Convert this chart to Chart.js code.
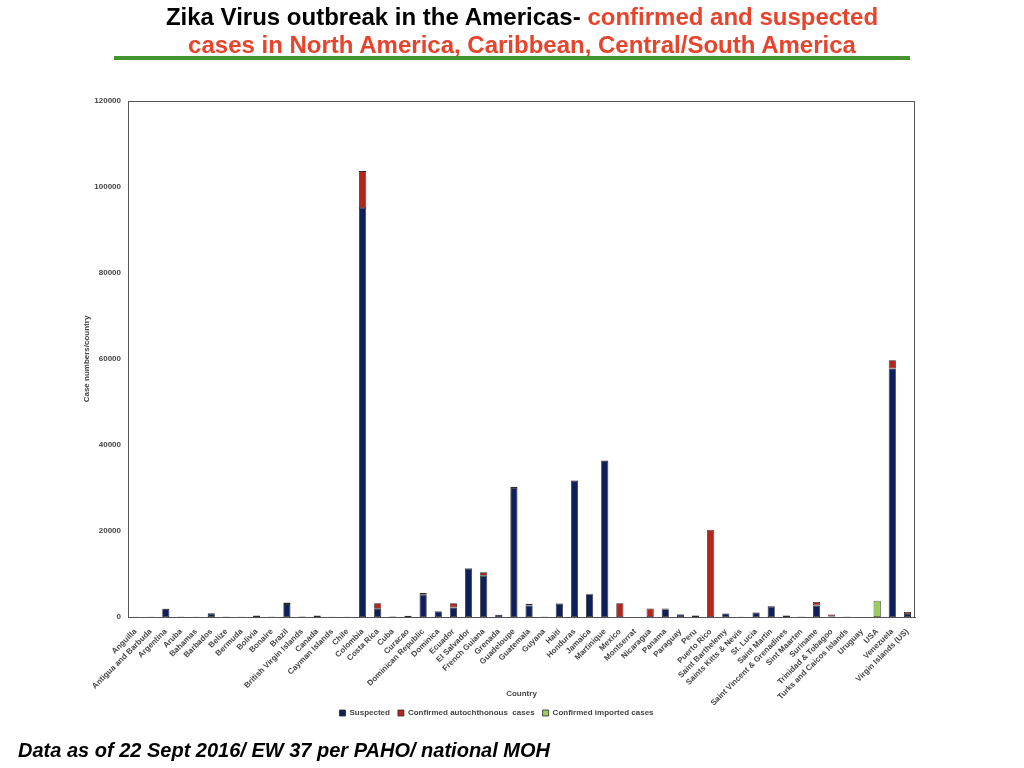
<!DOCTYPE html>
<html>
<head>
<meta charset="utf-8">
<script src="https://cdn.jsdelivr.net/npm/chart.js@4/dist/chart.umd.min.js"></script>
<style>
  html, body { margin: 0; padding: 0; background: #fff; }
  body { width: 1024px; height: 768px; position: relative; overflow: hidden;
         font-family: "Liberation Sans", Arial, Helvetica, sans-serif; }
  #chartBox { position: absolute; left: 0; top: 0; width: 1024px; height: 768px; }
  .title { position: absolute; left: 0; width: 1044px; text-align: center;
           font-weight: bold; font-size: 24px; line-height: 28px; color: #000; }
  .red { color: #e8432b; }
  #rule { position: absolute; left: 114px; top: 56px; width: 796px; height: 4px; background: #45952f; }
  #footer { position: absolute; left: 18px; top: 739px; font-size: 20px; font-weight: bold;
            font-style: italic; color: #000; }
</style>
</head>
<body>
<div id="chartBox"><canvas id="zikaChart" width="1024" height="768"></canvas></div>
<div class="title" style="top:3px">Zika Virus outbreak in the Americas- <span class="red">confirmed and suspected</span></div>
<div class="title red" style="top:31px">cases in North America, Caribbean, Central/South America</div>
<div id="rule"></div>
<div id="footer">Data as of 22 Sept 2016/ EW 37 per PAHO/ national MOH</div>
<script>
const countries = [
    'Anguilla', 'Antigua and Barbuda', 'Argentina', 'Aruba', 'Bahamas', 'Barbados', 'Belize',
    'Bermuda', 'Bolivia', 'Bonaire', 'Brazil', 'British Virgin Islands', 'Canada',
    'Cayman Islands', 'Chile', 'Colombia', 'Costa Rica', 'Cuba', 'Curacao',
    'Dominican Republic', 'Dominica', 'Ecuador', 'El Salvador', 'French Guiana', 'Grenada',
    'Guadeloupe', 'Guatemala', 'Guyana', 'Haiti', 'Honduras', 'Jamaica', 'Martinique',
    'Mexico', 'Montserrat', 'Nicaragua', 'Panama', 'Paraguay', 'Peru', 'Puerto Rico',
    'Saint Barthelemy', 'Saints Kitts & Nevis', 'St. Lucia', 'Saint Martin',
    'Saint Vincent & Grenadines', 'Sint Maarten', 'Suriname', 'Trinidad & Tobagoo',
    'Turks and Caicos Islands', 'Uruguay', 'USA', 'Venezuela', 'Virgin Islands (US)'
];

// Suspected cases per country
const suspected = [
    40, 40, 1900, 80, 40, 700, 30,
    40, 250, 30, 3000, 20, 0,
    40, 40, 95100, 1900, 100, 0,
    5200, 1300, 2200, 11300, 9600, 450,
    30000, 2700, 80, 3100, 31700, 5300, 36300,
    0, 0, 0, 1800, 600, 300, 0,
    800, 20, 1000, 2400,
    300, 60, 2700, 100,
    80, 0, 0, 57800, 700
];

// Confirmed autochthonous cases per country
const confirmedLocal = [
    20, 20, 100, 20, 20, 150, 60,
    20, 80, 80, 350, 80, 0,
    20, 20, 8600, 1300, 20, 300,
    400, 100, 1000, 100, 800, 50,
    300, 400, 60, 100, 100, 100, 100,
    3200, 0, 2000, 200, 100, 100, 20300,
    50, 40, 100, 150,
    100, 60, 800, 500,
    40, 0, 0, 1900, 450
];

// Confirmed imported cases per country
const confirmedImported = [
    0, 0, 0, 0, 0, 0, 0,
    0, 0, 0, 0, 0, 350,
    0, 0, 0, 0, 0, 0,
    0, 0, 0, 0, 0, 0,
    0, 0, 0, 0, 0, 0, 0,
    0, 0, 0, 0, 0, 0, 0,
    0, 0, 0, 0,
    0, 0, 0, 0,
    0, 0, 3800, 0, 0
];

const yTicks = [0, 20000, 40000, 60000, 80000, 100000, 120000];

const axisFont = { family: '"Liberation Sans", Arial, sans-serif', size: 8, weight: 'bold' };

// draws the box around the plot area, and nudges the legend up a bit
const frameBox = {
    id: 'frameBox',
    afterLayout(chart) {
        if (chart.legend) {
            chart.legend.top -= 8;
            chart.legend.bottom -= 8;
        }
    },
    afterDraw(chart) {
        const { ctx, chartArea: a } = chart;
        ctx.save();
        ctx.strokeStyle = '#555';
        ctx.lineWidth = 1;
        ctx.strokeRect(a.left + 0.5, a.top + 0.5, a.right - a.left - 1, a.bottom - a.top);
        ctx.restore();
    }
};

function makeSet(label, data, color) {
    return {
        label: label,
        data: data,
        backgroundColor: color,
        borderColor: '#2a2a2a',
        borderWidth: 0.8,
        barPercentage: 0.5,
        categoryPercentage: 0.95,
        borderSkipped: false
    };
}

const ctx = document.getElementById('zikaChart');
new Chart(ctx, {
    type: 'bar',
    data: {
        labels: countries,
        datasets: [
            makeSet('Suspected', suspected, '#0f1f5c'),
            makeSet('Confirmed autochthonous  cases', confirmedLocal, '#b3261e'),
            makeSet('Confirmed imported cases', confirmedImported, '#9ccc5e')
        ]
    },
    options: {
        responsive: false,
        animation: false,
        layout: { padding: { top: 101, left: 78, right: 109, bottom: 33 } },
        plugins: {
            legend: {
                position: 'bottom',
                labels: {
                    boxWidth: 6, boxHeight: 6, padding: 8,
                    color: '#444', font: axisFont
                }
            },
            tooltip: { enabled: false }
        },
        scales: {
            x: {
                stacked: true,
                grid: { display: false },
                border: { display: true, color: '#555' },
                ticks: {
                    autoSkip: false, minRotation: 45, maxRotation: 45,
                    color: '#444', font: axisFont, padding: 2
                },
                title: {
                    display: true, text: 'Country', color: '#444', font: axisFont,
                    padding: { top: 0, bottom: 10 }
                },
                afterFit(scale) { scale.height = 92; }
            },
            y: {
                stacked: true,
                min: 0, max: 120000,
                grid: { display: false, drawTicks: false },
                border: { display: true, color: '#555' },
                afterBuildTicks(scale) { scale.ticks = yTicks.map(v => ({ value: v })); },
                ticks: {
                    color: '#444', font: axisFont, padding: 7,
                    callback: v => String(v)
                },
                title: {
                    display: true, text: 'Case numbers/country', color: '#444', font: axisFont,
                    padding: { top: 4, bottom: 0 }
                },
                afterFit(scale) { scale.width = 50; }
            }
        }
    },
    plugins: [frameBox]
});
</script>
</body>
</html>
